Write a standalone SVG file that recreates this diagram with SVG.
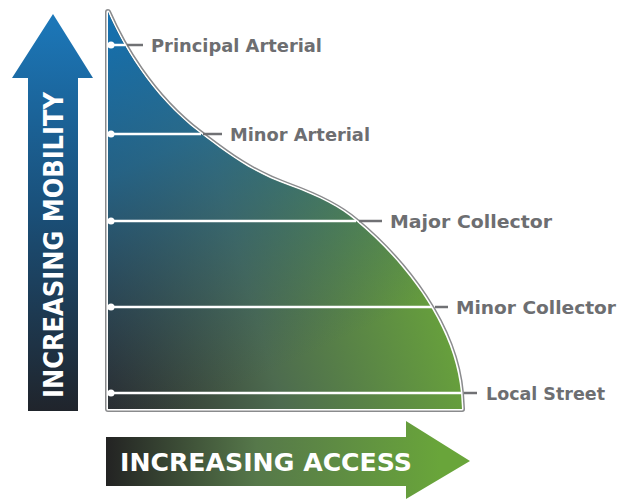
<svg xmlns="http://www.w3.org/2000/svg" width="619" height="499" viewBox="0 0 619 499">
<defs>
<linearGradient id="baseG" gradientUnits="userSpaceOnUse" x1="108" y1="400" x2="462" y2="300">
<stop offset="0" stop-color="#2a2a2b"/>
<stop offset="0.45" stop-color="#4d6b4f"/>
<stop offset="1" stop-color="#6aa63a"/>
</linearGradient>
<linearGradient id="blueG" gradientUnits="userSpaceOnUse" x1="110" y1="20" x2="280" y2="390">
<stop offset="0" stop-color="#1470b0" stop-opacity="1"/>
<stop offset="0.35" stop-color="#1f6b9c" stop-opacity="0.75"/>
<stop offset="0.95" stop-color="#2a5070" stop-opacity="0"/>
</linearGradient>
<linearGradient id="upG" gradientUnits="userSpaceOnUse" x1="0" y1="14" x2="0" y2="412">
<stop offset="0" stop-color="#1c78ba"/>
<stop offset="0.5" stop-color="#1a4f78"/>
<stop offset="1" stop-color="#20242b"/>
</linearGradient>
<linearGradient id="rightG" gradientUnits="userSpaceOnUse" x1="106" y1="0" x2="440" y2="0">
<stop offset="0" stop-color="#232323"/>
<stop offset="0.45" stop-color="#56784a"/>
<stop offset="1" stop-color="#69a53a"/>
</linearGradient>
<style>
.lbl{font-family:"DejaVu Sans","Liberation Sans",sans-serif;font-weight:bold;font-size:18px;fill:#6d6e71}
.ax{font-family:"DejaVu Sans","Liberation Sans",sans-serif;font-weight:bold;fill:#ffffff}
.lvl{stroke:#ffffff;stroke-width:2.5;fill:none}
.dot{fill:#ffffff}
.con{stroke:#707174;stroke-width:2.5;fill:none}
</style>
</defs>

<g id="mobility-arrow">
<path d="M12,78 L53,14 L93,78 L78,78 L78,411 L28,411 L28,78 Z" fill="url(#upG)"/>
<text class="ax" font-size="26" text-anchor="middle" textLength="306" lengthAdjust="spacingAndGlyphs" transform="translate(63,245) rotate(-90)">INCREASING MOBILITY</text>
</g>

<g id="access-arrow">
<path d="M106,437 L406,437 L406,421 L470,461 L406,499 L406,486 L106,486 Z" fill="url(#rightG)"/>
<text class="ax" font-size="25" x="120" y="471" textLength="292" lengthAdjust="spacingAndGlyphs">INCREASING ACCESS</text>
</g>

<g id="area">
<path d="M108,12 C121,42 150,95 200,133 C225,152 250,172 290,186 C320,197 340,207 356,221 C405,262 455,325 461,393 L462,409 L108,409 Z" fill="none" stroke="#8a8b8d" stroke-width="6" stroke-linejoin="round"/>
<path d="M108,12 C121,42 150,95 200,133 C225,152 250,172 290,186 C320,197 340,207 356,221 C405,262 455,325 461,393 L462,409 L108,409 Z" fill="none" stroke="#ffffff" stroke-width="3" stroke-linejoin="round"/>
<path d="M108,12 C121,42 150,95 200,133 C225,152 250,172 290,186 C320,197 340,207 356,221 C405,262 455,325 461,393 L462,409 L108,409 Z" fill="url(#baseG)"/>
<path d="M108,12 C121,42 150,95 200,133 C225,152 250,172 290,186 C320,197 340,207 356,221 C405,262 455,325 461,393 L462,409 L108,409 Z" fill="url(#blueG)"/>
</g>

<g id="connectors">
<line class="lvl" x1="111" y1="45" x2="125" y2="45"/>
<line class="lvl" x1="111" y1="134" x2="201" y2="134"/>
<line class="lvl" x1="111" y1="221" x2="356" y2="221"/>
<line class="lvl" x1="111" y1="307" x2="432" y2="307"/>
<line class="lvl" x1="111" y1="393" x2="461" y2="393"/>
<circle class="dot" cx="111" cy="45" r="3.5"/>
<circle class="dot" cx="111" cy="134" r="3.5"/>
<circle class="dot" cx="111" cy="221" r="3.5"/>
<circle class="dot" cx="111" cy="307" r="3.5"/>
<circle class="dot" cx="111" cy="393" r="3.5"/>
<line class="con" x1="127" y1="45" x2="143" y2="45"/>
<line class="con" x1="203" y1="134" x2="222" y2="134"/>
<line class="con" x1="359" y1="221" x2="382" y2="221"/>
<line class="con" x1="435" y1="307" x2="448" y2="307"/>
<line class="con" x1="464" y1="393" x2="477" y2="393"/>
</g>

<g id="principal-arterial"><text class="lbl" x="151" y="52" textLength="171" lengthAdjust="spacingAndGlyphs">Principal Arterial</text></g>
<g id="minor-arterial"><text class="lbl" x="230" y="141" textLength="140" lengthAdjust="spacingAndGlyphs">Minor Arterial</text></g>
<g id="major-collector"><text class="lbl" x="390" y="228" textLength="162" lengthAdjust="spacingAndGlyphs">Major Collector</text></g>
<g id="minor-collector"><text class="lbl" x="456" y="314" textLength="160" lengthAdjust="spacingAndGlyphs">Minor Collector</text></g>
<g id="local-street"><text class="lbl" x="486" y="400" textLength="119" lengthAdjust="spacingAndGlyphs">Local Street</text></g>
</svg>
